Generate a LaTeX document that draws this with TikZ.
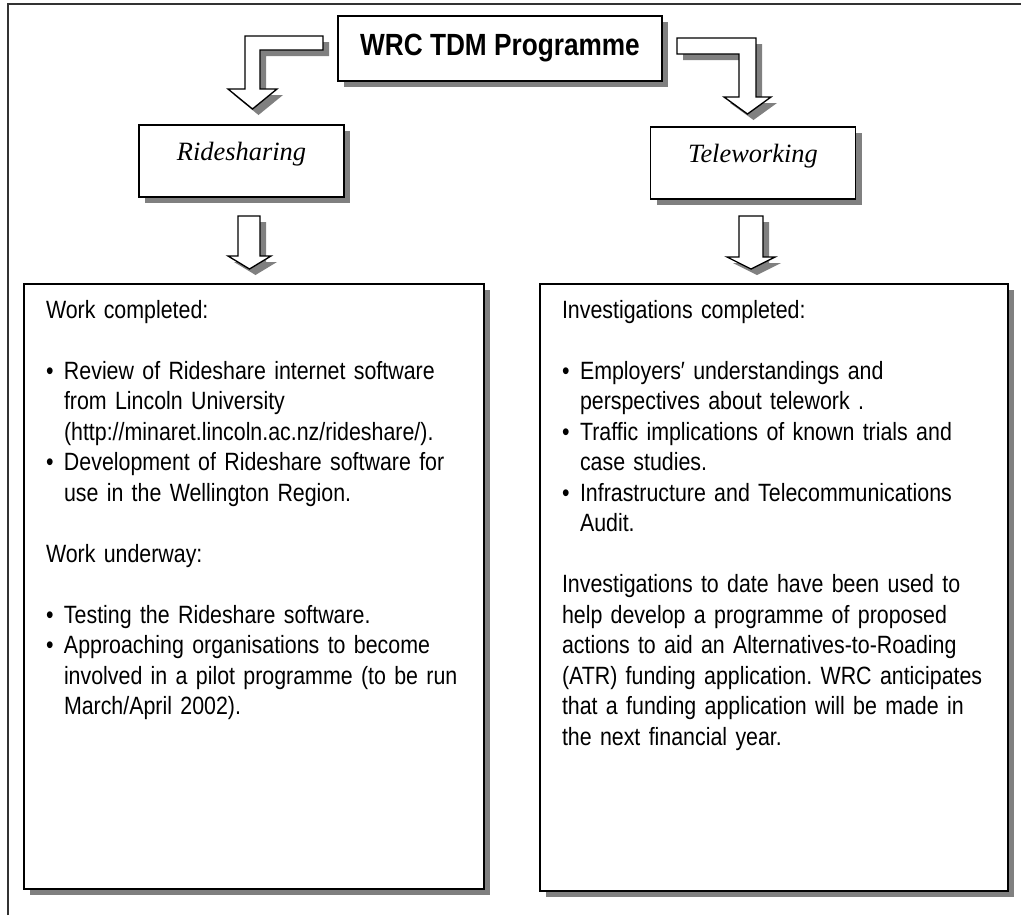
\documentclass[tikz,border=0pt]{standalone}
\usepackage{fontspec}
\setmainfont{Liberation Sans}[FakeStretch=0.855]
\newfontfamily\romanfont{Liberation Serif}
\usetikzlibrary{shadows}

\newcommand{\itemdot}{\makebox[13.5pt][l]{\textbullet}}
\newcommand{\itemgap}{\hspace*{13.5pt}}
\frenchspacing
\hyphenpenalty=10000

\begin{document}
\begin{tikzpicture}[
  x=0.75pt, y=-0.75pt,
  castshadow/.style={drop shadow={shadow xshift=4.5pt, shadow yshift=-4.5pt, opacity=1, fill=gray}},
  titlebox/.style={draw, fill=white, line width=1.3pt, castshadow, minimum width=243pt, minimum height=48.75pt, font=\fontsize{23}{27}\selectfont\bfseries},
  topicbox/.style={draw, fill=white, line width=1.1pt, castshadow, minimum width=153.75pt, inner ysep=0pt, text height=26.25pt, text depth=27.75pt, font=\romanfont\itshape\fontsize{19.8}{24}\selectfont},
  infobox/.style={draw, fill=white, line width=1.1pt, castshadow, inner xsep=16.5pt, inner ysep=0pt, text height=25.5pt, align=left, font=\fontsize{18.75}{22.9}\selectfont},
  blockarrow/.style={draw, fill=white, line width=1pt, line join=miter, castshadow}
]
  \useasboundingbox (0,0) rectangle (1021,915);
  \draw[line width=0.8pt, black!80] (8,915) -- (8,4) -- (1021,4);

  \node[titlebox] (prog) at (500,48.5) {WRC TDM Programme};
  \node[topicbox] (ride) at (241.5,161) {Ridesharing};
  \node[topicbox] (tele) at (753,163) {Teleworking};

  % bent arrows from the programme box
  \draw[blockarrow] (323,36) -- (245,36) -- (245,89) -- (228,89) -- (252.5,109)
    -- (277,89) -- (260,89) -- (260,50) -- (323,50) -- cycle;
  \draw[blockarrow] (677,38) -- (756,38) -- (756,97) -- (771,97) -- (747.5,114)
    -- (724,97) -- (739,97) -- (739,54) -- (677,54) -- cycle;

  % down arrows
  \draw[blockarrow] (238,216) -- (260,216) -- (260,256) -- (271,256) -- (249.5,269)
    -- (228,256) -- (238,256) -- cycle;
  \draw[blockarrow] (739,216) -- (763,216) -- (763,257) -- (775,257) -- (751,269)
    -- (727,257) -- (739,257) -- cycle;

  \node[infobox, text width=312pt, text depth=428.25pt] (rideinfo) at (254,586.5) {%
    Work completed:\\[22.9pt]
    \itemdot Review of Rideshare internet software\\
    \itemgap from Lincoln University\\
    \itemgap (http://minaret.lincoln.ac.nz/rideshare/).\\
    \itemdot Development of Rideshare software for\\
    \itemgap use in the Wellington Region.\\[22.9pt]
    Work underway:\\[22.9pt]
    \itemdot Testing the Rideshare software.\\
    \itemdot Approaching organisations to become\\
    \itemgap \mbox{involved in a pilot programme (to be run}\\
    \itemgap March/April 2002).};

  \node[infobox, text width=318pt, text depth=429.75pt] (teleinfo) at (774,587.5) {%
    Investigations completed:\\[22.9pt]
    \itemdot Employers′ understandings and\\
    \itemgap perspectives about telework .\\
    \itemdot Traffic implications of known trials and\\
    \itemgap case studies.\\
    \itemdot Infrastructure and Telecommunications\\
    \itemgap Audit.\\[22.9pt]
    Investigations to date have been used to\\
    help develop a programme of proposed\\
    \mbox{actions to aid an Alternatives-to-Roading}\\
    \mbox{(ATR) funding application. WRC anticipates}\\
    that a funding application will be made in\\
    the next financial year.};
\end{tikzpicture}
\end{document}
